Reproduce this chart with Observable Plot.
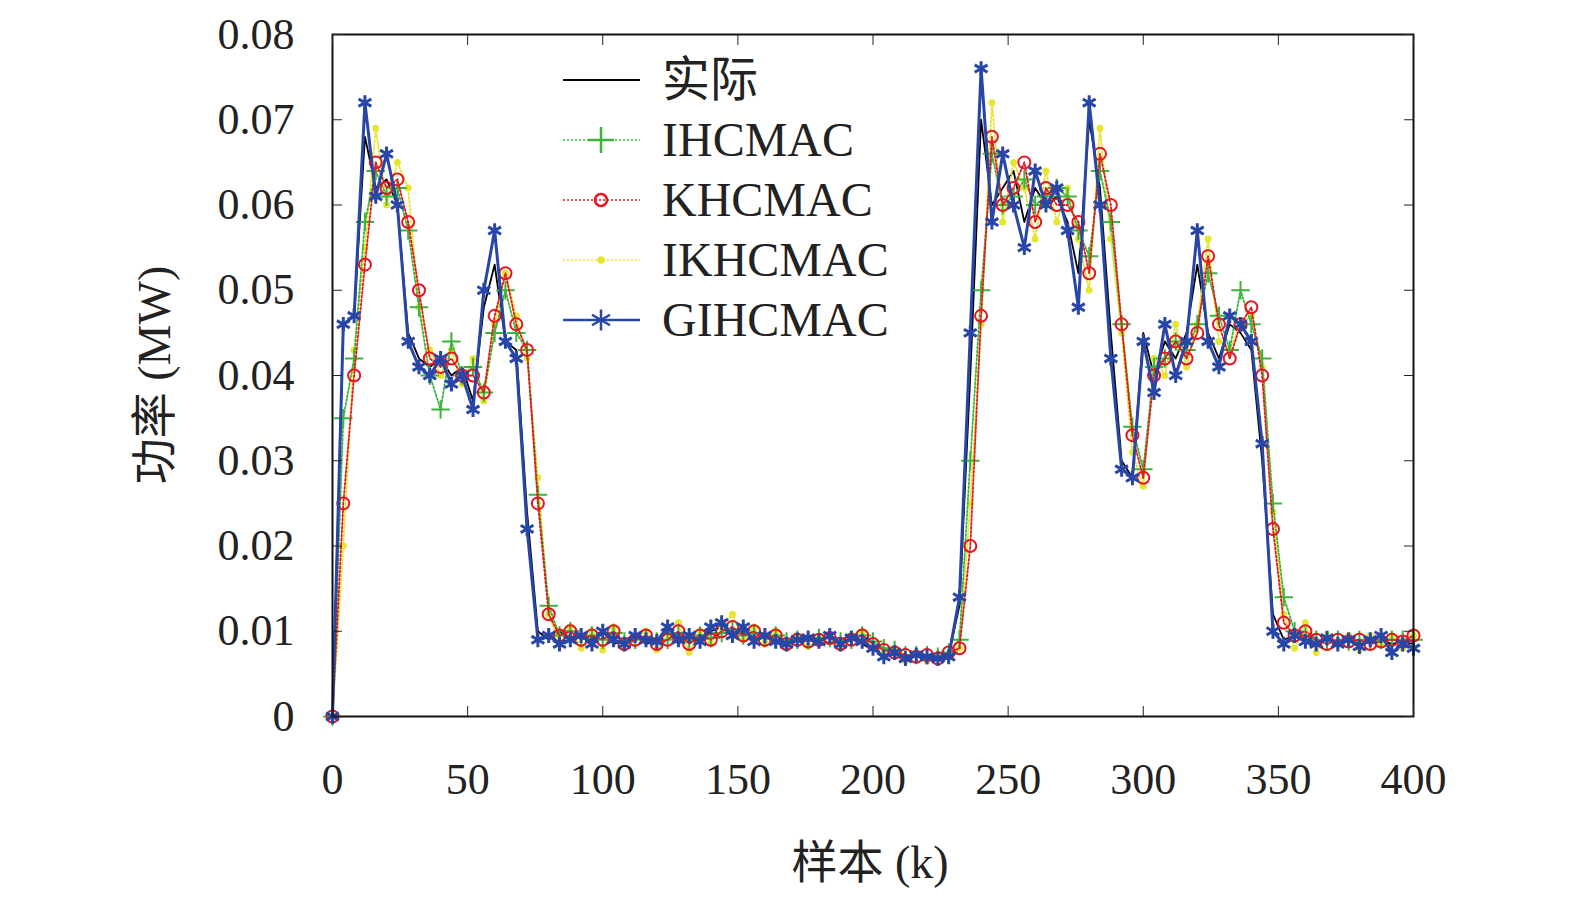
<!DOCTYPE html>
<html><head><meta charset="utf-8">
<script src="https://cdn.jsdelivr.net/npm/d3@7"></script>
<script src="https://cdn.jsdelivr.net/npm/@observablehq/plot@0.6"></script>
<style>
body{margin:0;background:#fff;font-family:"Liberation Serif","Noto Sans CJK SC",serif;}
#wrap{position:relative;width:1575px;height:900px;}
.lbl{position:absolute;font-size:46px;color:#222;white-space:nowrap;}
</style></head><body><div id="wrap"></div>
<script>
const step = 4;
const actual = [0,.046,.047,.068,.062,.063,.060,.045,.042,.041,.042,.040,.041,.037,.048,.053,.044,.043,.024,.010,
.009,.010,.009,.0095,.009,.010,.0085,.009,.0095,.0085,.009,.010,.0085,.0095,.009,.010,.0105,.0095,.010,.009,
.0095,.0085,.009,.0088,.009,.0092,.0085,.009,.0095,.0085,.0078,.0075,.0072,.0070,.0072,.0068,.0070,.0072,.013,.040,
.070,.060,.062,.064,.058,.062,.060,.061,.058,.052,.070,.062,.045,.030,.028,.045,.040,.044,.042,.045,
.053,.045,.042,.046,.045,.043,.030,.012,.009,.0095,.009,.0085,.009,.0088,.009,.0085,.0088,.009,.0085,.0088,.0085];
const gihcmac = [0,.046,.047,.072,.061,.066,.060,.044,.041,.040,.042,.039,.040,.036,.050,.057,.044,.042,.022,.009,
.0095,.0085,.009,.0095,.0085,.010,.009,.0085,.0095,.009,.0088,.0105,.009,.0095,.0088,.0105,.011,.0095,.0105,.0088,
.0095,.0088,.0085,.009,.0092,.0088,.0095,.0085,.0092,.0088,.008,.007,.0075,.0068,.0072,.007,.0068,.007,.014,.045,
.076,.058,.066,.060,.055,.064,.060,.062,.057,.048,.072,.060,.042,.029,.028,.044,.038,.046,.040,.044,
.057,.044,.041,.047,.046,.044,.032,.010,.0085,.0095,.0088,.0085,.0092,.0085,.009,.0082,.009,.0095,.0075,.0085,.008];
const khcmac = [0,.025,.040,.053,.065,.062,.063,.058,.050,.042,.041,.042,.040,.040,.038,.047,.052,.046,.043,.025,
.012,.0095,.010,.009,.0095,.009,.010,.0085,.009,.0095,.0085,.009,.010,.0085,.0095,.009,.010,.0105,.0095,.010,
.009,.0095,.0085,.009,.0088,.009,.0092,.0085,.009,.0095,.0085,.0078,.0075,.0072,.007,.0072,.0068,.0075,.008,.020,
.047,.068,.060,.062,.065,.058,.062,.060,.060,.058,.052,.066,.060,.046,.033,.028,.040,.042,.044,.042,
.045,.054,.046,.042,.046,.048,.040,.022,.011,.0095,.010,.009,.0085,.009,.0088,.009,.0085,.0088,.009,.0088,.0095];
const ihcmac = [0,.035,.042,.058,.064,.061,.062,.057,.048,.040,.036,.044,.040,.041,.038,.045,.050,.045,.043,.026,
.013,.0095,.010,.0092,.0095,.009,.0098,.0088,.009,.0092,.0088,.009,.0098,.0088,.0095,.0092,.0098,.0102,.0095,.0098,
.0092,.0095,.0088,.009,.009,.0092,.0092,.0088,.009,.0095,.0088,.008,.0078,.0072,.0072,.0072,.007,.0075,.009,.030,
.050,.066,.060,.061,.063,.060,.061,.062,.061,.057,.054,.064,.058,.046,.034,.029,.041,.042,.044,.043,
.046,.052,.047,.043,.050,.046,.042,.025,.014,.010,.0095,.009,.0088,.009,.0088,.009,.0088,.009,.009,.009,.009];
const ikhcmac = [0,.020,.043,.055,.069,.060,.065,.062,.048,.043,.040,.043,.039,.042,.037,.046,.052,.047,.042,.028,
.012,.0085,.0105,.008,.010,.0078,.0105,.008,.0092,.010,.0078,.0095,.011,.0075,.010,.0085,.0105,.012,.009,.0105,
.0085,.010,.008,.0095,.0082,.0092,.0095,.008,.0095,.010,.008,.0075,.008,.0065,.0075,.0065,.0072,.007,.008,.025,
.046,.072,.058,.065,.062,.056,.064,.058,.062,.056,.050,.069,.056,.045,.031,.027,.042,.040,.046,.041,
.046,.056,.044,.043,.046,.047,.041,.024,.012,.008,.011,.0075,.0095,.0085,.0095,.0078,.0095,.0085,.0095,.008,.0095];
const xTicks = [0,50,100,150,200,250,300,350,400];
const yTicks = [0,0.01,0.02,0.03,0.04,0.05,0.06,0.07,0.08];

const series = [
  {name:"实际", data:actual, color:"#000", dash:null, symbol:null},
  {name:"IHCMAC", data:ihcmac, color:"#3cb43c", dash:"2,2", symbol:"plus", r:6},
  {name:"KHCMAC", data:khcmac, color:"#e8141e", dash:"2,2", symbol:"circle", r:6},
  {name:"IKHCMAC", data:ikhcmac, color:"#e6e632", dash:"2,2", symbol:"circle", r:2.5, fill:true},
  {name:"GIHCMAC", data:gihcmac, color:"#2846a8", dash:null, symbol:"asterisk", r:7}
];
const order = [0,3,1,2,4];
const marks = [];
for (const i of order) {
  const s = series[i];
  const pts = s.data.map((v,j)=>({k:j*step,v}));
  marks.push(Plot.line(pts,{x:"k",y:"v",stroke:s.color,strokeWidth:i===4?3:1.8,strokeDasharray:s.dash}));
  if (s.symbol) marks.push(Plot.dot(pts,{x:"k",y:"v",symbol:s.symbol,r:s.r,stroke:s.color,fill:s.fill?s.color:"none",strokeWidth:i===4?3:2}));
}
const fmtY = d => d===0?"0":d.toFixed(2);
const chart = Plot.plot({
  width:1575, height:900,
  marginLeft:332, marginRight:162, marginTop:34, marginBottom:184,
  style:{fontFamily:"Liberation Serif, serif", fontSize:"44px", color:"#222", background:"#fff"},
  x:{domain:[0,400]}, y:{domain:[0,0.08]},
  marks:[
    ...marks,
    Plot.frame({stroke:"#111", strokeWidth:2}),
    Plot.axisX({ticks:xTicks, tickSize:-10, tickPadding:56, label:null, fontSize:44}),
    Plot.axisX({anchor:"top", ticks:xTicks, tickSize:-10, tickFormat:()=>"", label:null}),
    Plot.axisY({ticks:yTicks, tickSize:-10, tickPadding:48, tickFormat:fmtY, label:null, fontSize:44}),
    Plot.axisY({anchor:"right", ticks:yTicks, tickSize:-10, tickFormat:()=>"", label:null})
  ]
});
const wrap = document.getElementById("wrap");
wrap.appendChild(chart);
const leg = d3.select(wrap).append("svg").attr("width",420).attr("height",300)
  .style("position","absolute").style("left","555px").style("top","50px");
series.forEach((s,i)=>{
  const y = 30 + i*60;
  leg.append("line").attr("x1",8).attr("x2",85).attr("y1",y).attr("y2",y)
    .attr("stroke",s.color).attr("stroke-width",i===0?2:(i===4?2.5:1.6)).attr("stroke-dasharray",s.dash);
  if (s.symbol){
    const sym = {plus:d3.symbolPlus, circle:d3.symbolCircle, asterisk:d3.symbolAsterisk}[s.symbol];
    leg.append("path").attr("d",d3.symbol(sym, Math.PI*s.r*s.r*(s.symbol==="circle"?1:2))())
      .attr("transform",`translate(46,${y})`).attr("stroke",s.color).attr("stroke-width",2.5)
      .attr("fill",s.fill?s.color:"none");
  }
  leg.append("text").attr("x",107).attr("y",y+16).text(s.name)
    .style("font-family","Liberation Serif, Noto Sans CJK SC, serif").style("font-size","48px").attr("fill","#222");
});
const yl = document.createElement("div"); yl.className="lbl"; yl.textContent="功率 (MW)";
yl.style.left="150px"; yl.style.top="375px"; yl.style.transform="translate(-50%,-50%) rotate(-90deg)";
wrap.appendChild(yl);
const xl = document.createElement("div"); xl.className="lbl"; xl.textContent="样本 (k)";
xl.style.left="870px"; xl.style.top="858px"; xl.style.transform="translate(-50%,-50%)";
wrap.appendChild(xl);
</script></body></html>
